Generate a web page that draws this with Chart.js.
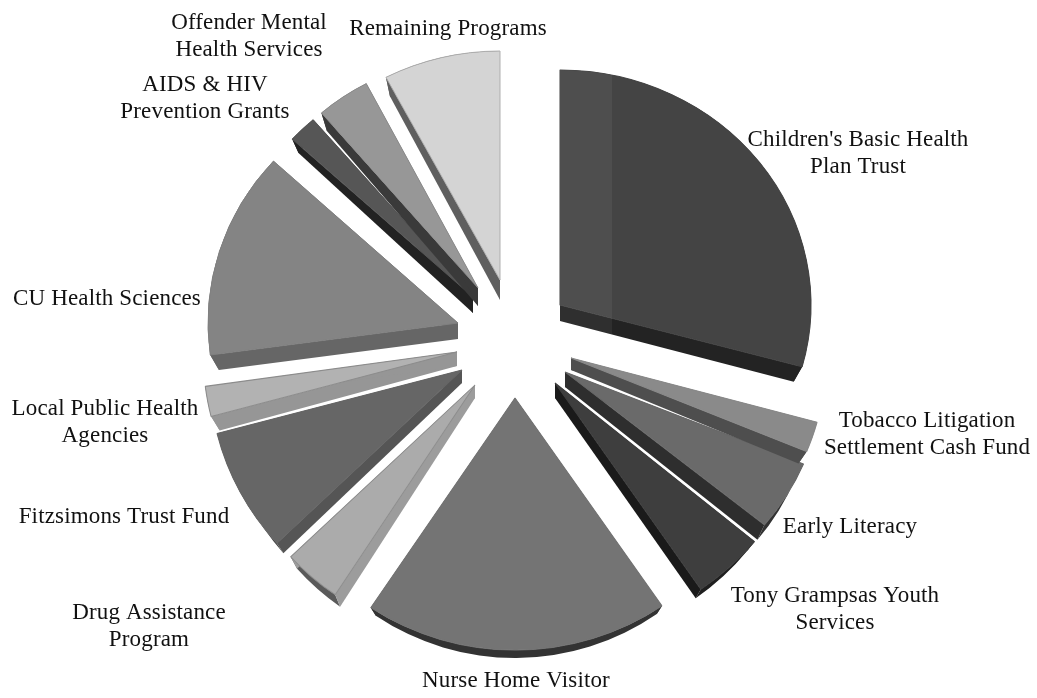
<!DOCTYPE html>
<html>
<head>
<meta charset="utf-8">
<title>Health program funding</title>
<script src="https://cdn.jsdelivr.net/npm/chart.js@4"></script>
<style>
    html, body { margin: 0; padding: 0; background: #ffffff; }
    canvas { display: block; }
</style>
</head>
<body>
<canvas id="fundChart" width="1037" height="698"></canvas>
<script>
const programs = [
    "Children's Basic Health Plan Trust", 'Tobacco Litigation Settlement Cash Fund', 'Early Literacy',
    'Tony Grampsas Youth Services', 'Nurse Home Visitor', 'Drug Assistance Program', 'Fitzsimons Trust Fund',
    'Local Public Health Agencies', 'CU Health Sciences', 'AIDS & HIV Prevention Grants',
    'Offender Mental Health Services', 'Remaining Programs'
];
const shares = [29.2, 2.0, 4.7, 4.5, 18.9, 3.7, 7.9, 1.9, 13.9, 1.9, 3.6, 7.7];

// how each program name wraps on the page
const labelLines = [
    ["Children's Basic Health", 'Plan Trust'], ['Tobacco Litigation', 'Settlement Cash Fund'], ['Early Literacy'],
    ['Tony Grampsas Youth', 'Services'], ['Nurse Home Visitor'], ['Drug Assistance', 'Program'], ['Fitzsimons Trust Fund'],
    ['Local Public Health', 'Agencies'], ['CU Health Sciences'], ['AIDS & HIV', 'Prevention Grants'],
    ['Offender Mental', 'Health Services'], ['Remaining Programs']
];
const labelX = [858, 927, 850, 835, 516, 149, 124, 105, 107, 205, 249, 448];
const labelY = [146, 427, 533, 602, 687, 619, 523, 415, 305, 91, 29, 35];

const topColors = ['#444444', '#8a8a8a', '#6a6a6a', '#3e3e3e', '#747474', '#ababab', '#666666', '#b2b2b2', '#848484', '#565656', '#979797', '#d4d4d4'];
const edgeColors = ['#444444', '#8a8a8a', '#6a6a6a', '#3e3e3e', '#747474', '#8c8c8c', '#666666', '#8c8c8c', '#808080', '#565656', '#8c8c8c', '#ababab'];
const sideColors = ['#232323', '#4e4e4e', '#2e2e2e', '#1a1a1a', '#333333', '#9c9c9c', '#555555', '#969696', '#666666', '#222222', '#3a3a3a', '#5f5f5f'];
const rimColors = ['#2e2e2e', '#4e4e4e', '#333333', '#1f1f1f', '#333333', '#5a5a5a', '#444444', '#969696', '#666666', '#222222', '#3a3a3a', '#5f5f5f'];

// explode distance from the pie centre, per slice
const explodeX = [41.5, 52.5, 46.5, 36.5, -3.5, -43.5, -56.5, -61.5, -60.5, -45.5, -40.5, -18.5];
const explodeY = [-44, 9, 23, 34, 49, 36, 21, 3, -26, -52, -61, -69];
// perspective stretch of the top face
const radiusX = [251, 255, 258, 258, 260, 252, 253, 254, 250, 245, 240, 245];
const radiusY = [235, 245, 241, 250, 252, 252, 254, 258, 240, 234, 231, 229];
// wall height at the pie tip and at the rim
const depthTip = [16, 12, 15, 15, 8, 13, 13, 14, 16, 16, 18, 20];
const depthRim = [15, 12, 15, 9, 8, 12, 10, 14, 15, 14, 18, 19];
const sheenWidth = [52, 0, 0, 0, 0, 0, 0, 0, 0, 0, 0, 0];

const BASE_RADIUS = 250;
const RIM_SHRINK = 0.965;

function sliceGeometry(el, i) {
    const ax = el.x + explodeX[i];
    const ay = el.y + explodeY[i];
    const rx = radiusX[i];
    const ry = radiusY[i];
    const rimY = ay + depthRim[i];
    const lowerRx = rx * RIM_SHRINK;
    return {
        ax, ay, rx, ry, rimY, lowerRx,
        tipY: ay + depthTip[i],
        start: el.startAngle,
        end: el.endAngle
    };
}

function traceSideWall(ctx, g, angle) {
    const cos = Math.cos(angle);
    const sin = Math.sin(angle);
    ctx.beginPath();
    ctx.moveTo(g.ax, g.ay);
    ctx.lineTo(g.ax + g.rx * cos, g.ay + g.ry * sin);
    ctx.lineTo(g.ax + g.lowerRx * cos, g.rimY + g.ry * sin);
    ctx.lineTo(g.ax, g.tipY);
    ctx.closePath();
}

function traceRimWall(ctx, g) {
    ctx.beginPath();
    ctx.ellipse(g.ax, g.ay, g.rx, g.ry, 0, g.start, g.end);
    ctx.ellipse(g.ax, g.rimY, g.lowerRx, g.ry, 0, g.end, g.start, true);
    ctx.closePath();
}

function drawSheen(ctx, g, width) {
    // lighter vertical band across the slice
    ctx.save();
    ctx.beginPath();
    ctx.rect(g.ax, 0, width, ctx.canvas.height);
    ctx.clip();
    ctx.fillStyle = 'rgba(255, 255, 255, 0.055)';
    ctx.beginPath();
    ctx.moveTo(g.ax, g.ay);
    ctx.ellipse(g.ax, g.ay, g.rx, g.ry, 0, g.start, g.end);
    ctx.lineTo(g.ax + g.lowerRx * Math.cos(g.end), g.rimY + g.ry * Math.sin(g.end));
    ctx.lineTo(g.ax, g.tipY);
    ctx.closePath();
    ctx.fill();
    ctx.restore();
}

const extrudedPie = {
    id: 'extrudedPie',
    beforeDatasetDraw(chart, args) {
        const ctx = chart.ctx;
        const arcs = args.meta.data;
        // lower slices first, so upper walls fall over them
        const order = arcs.map((el, i) => i).sort((a, b) => explodeY[b] - explodeY[a]);

        order.forEach(i => {
            const el = arcs[i];
            const g = sliceGeometry(el, i);

            ctx.fillStyle = rimColors[i];
            traceRimWall(ctx, g);
            ctx.fill();
            ctx.fillStyle = sideColors[i];
            traceSideWall(ctx, g, g.start);
            ctx.fill();
            traceSideWall(ctx, g, g.end);
            ctx.fill();

            ctx.save();
            ctx.translate(g.ax, g.ay);
            ctx.scale(g.rx / BASE_RADIUS, g.ry / BASE_RADIUS);
            ctx.translate(-el.x, -el.y);
            el.draw(ctx);
            ctx.restore();

            if (sheenWidth[i] > 0) {
                drawSheen(ctx, g, sheenWidth[i]);
            }
        });
        return false;
    },
    afterDraw(chart) {
        const ctx = chart.ctx;
        ctx.save();
        ctx.fillStyle = '#111111';
        ctx.font = '23px "Liberation Serif"';
        ctx.letterSpacing = '0.15px';
        ctx.textAlign = 'center';
        ctx.textBaseline = 'alphabetic';
        labelLines.forEach((lines, i) => {
            lines.forEach((line, n) => {
                ctx.fillText(line, labelX[i], labelY[i] + n * 27);
            });
        });
        ctx.restore();
    }
};

new Chart(document.getElementById('fundChart').getContext('2d'), {
    type: 'pie',
    data: {
        labels: programs,
        datasets: [{
            data: shares,
            backgroundColor: topColors,
            borderColor: edgeColors,
            borderWidth: 1
        }]
    },
    options: {
        responsive: false,
        animation: false,
        radius: BASE_RADIUS,
        rotation: 0,
        plugins: {
            legend: { display: false },
            tooltip: { enabled: false }
        }
    },
    plugins: [extrudedPie]
});
</script>
</body>
</html>
